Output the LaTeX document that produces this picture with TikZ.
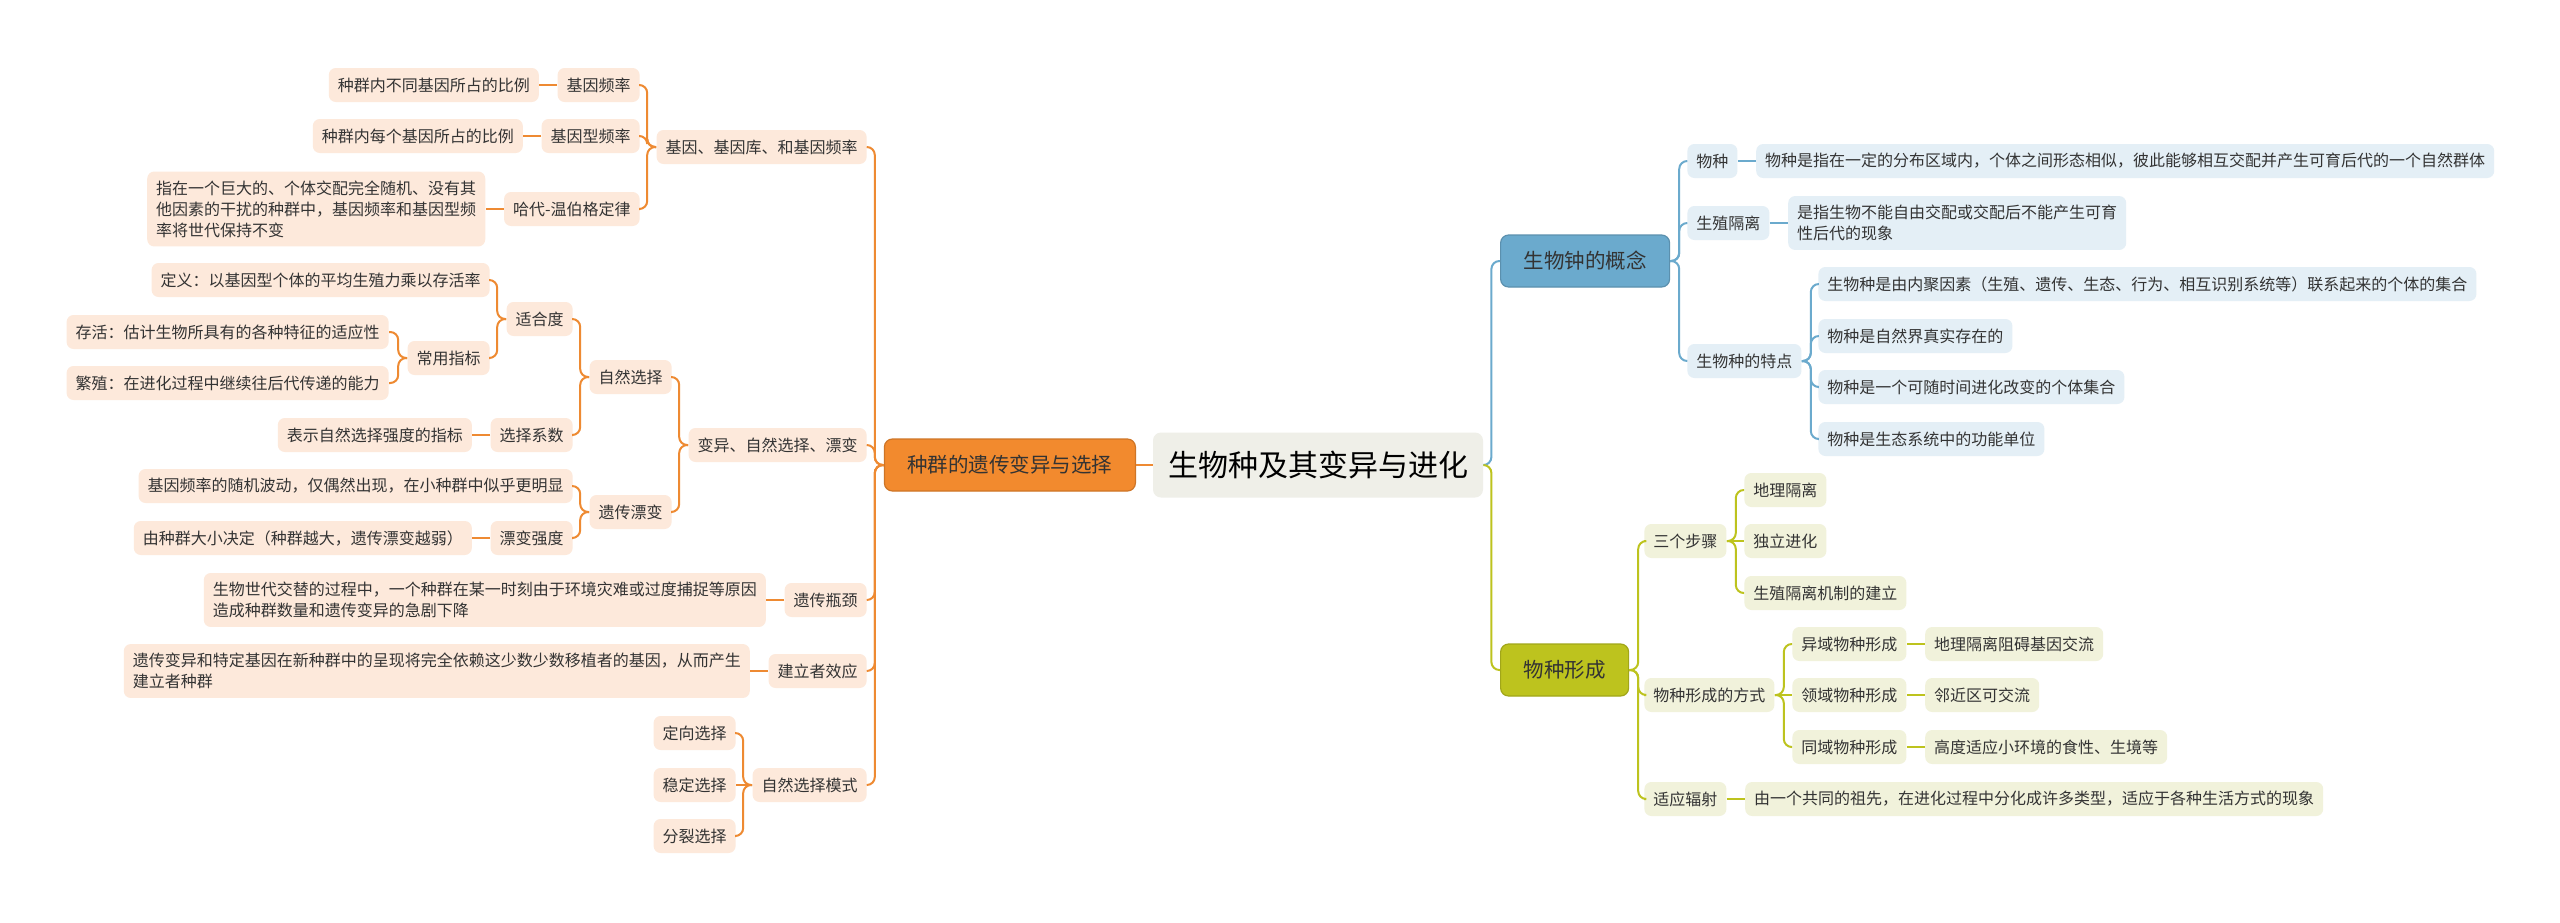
\documentclass[tikz,border=0pt]{standalone}
\usepackage{fontspec}
\setmainfont{Noto Sans CJK SC}
\usetikzlibrary{positioning, calc}
\usepackage{xcolor}
\definecolor{mapdark}{HTML}{333333}
\definecolor{maproot}{HTML}{EFEFE8}
\definecolor{maporange}{HTML}{F28A2E}
\definecolor{maporangeline}{HTML}{EE8A32}
\definecolor{maporangeleaf}{HTML}{FDE9DB}
\definecolor{mapblue}{HTML}{6BAACD}
\definecolor{mapblueleaf}{HTML}{E4EFF6}
\definecolor{mapolive}{HTML}{BDC31E}
\definecolor{mapoliveleaf}{HTML}{F1F2DB}

\begin{document}
\begin{tikzpicture}[
  x=0.5pt, y=-0.5pt,
  topic/.style={
    rounded corners=4pt, fill=maproot, text=black,
    font=\fontsize{15}{18}\selectfont, inner xsep=0pt,
    minimum width=165pt, minimum height=32.5pt
  },
  branch/.style={
    rounded corners=4pt, draw=#1!85!black, line width=0.6pt, fill=#1,
    text=mapdark, font=\fontsize{10.25}{12}\selectfont,
    inner xsep=11.5pt, minimum height=26pt
  },
  leaf/.style={
    rounded corners=3.5pt, fill=#1, text=mapdark,
    font=\fontsize{8}{10.5}\selectfont, align=left,
    inner xsep=4.5pt, inner ysep=4.5pt, minimum height=17pt
  },
  link/.style={draw=#1, line width=1pt, rounded corners=4pt}
]
  \path[fill=white] (0,0) rectangle (2560,922);

  \node[topic] (root) at (1318,465) {生物种及其变异与进化};
  \node[branch=maporange, anchor=east] (pop) at (1136,465) {种群的遗传变异与选择};
  \node[branch=mapblue, anchor=west] (concept) at (1500,261) {生物钟的概念};
  \node[branch=mapolive, anchor=west] (form) at (1500,670) {物种形成};

  \node[leaf=maporangeleaf, anchor=east] (gpool) at (867,147) {基因、基因库、和基因频率};
  \node[leaf=maporangeleaf, anchor=east] (varsel) at (867,445) {变异、自然选择、漂变};
  \node[leaf=maporangeleaf, anchor=east] (bottle) at (867,600) {遗传瓶颈};
  \node[leaf=maporangeleaf, anchor=east] (founder) at (867,671) {建立者效应};
  \node[leaf=maporangeleaf, anchor=east] (modes) at (867,785) {自然选择模式};

  \node[leaf=maporangeleaf, anchor=east] (gfreq) at (640,85) {基因频率};
  \node[leaf=maporangeleaf, anchor=east] (gtype) at (640,136) {基因型频率};
  \node[leaf=maporangeleaf, anchor=east] (hardy) at (640,209) {哈代-温伯格定律};
  \node[leaf=maporangeleaf, left=9pt of gfreq] (gfreqdesc) {种群内不同基因所占的比例};
  \node[leaf=maporangeleaf, left=9pt of gtype] (gtypedesc) {种群内每个基因所占的比例};
  \node[leaf=maporangeleaf, left=9pt of hardy] (hardydesc) {指在一个巨大的、个体交配完全随机、没有其\\他因素的干扰的种群中，基因频率和基因型频\\率将世代保持不变};

  \node[leaf=maporangeleaf, anchor=east] (natsel) at (672,377) {自然选择};
  \node[leaf=maporangeleaf, anchor=east] (drift) at (672,512) {遗传漂变};
  \node[leaf=maporangeleaf, anchor=east] (fitness) at (573,319) {适合度};
  \node[leaf=maporangeleaf, anchor=east] (selcoef) at (573,435) {选择系数};
  \node[leaf=maporangeleaf, left=9pt of selcoef] (selcoefdesc) {表示自然选择强度的指标};
  \node[leaf=maporangeleaf, anchor=east] (fitdef) at (490,280) {定义：以基因型个体的平均生殖力乘以存活率};
  \node[leaf=maporangeleaf, anchor=east] (index) at (490,358) {常用指标};
  \node[leaf=maporangeleaf, anchor=east] (survive) at (389,332) {存活：估计生物所具有的各种特征的适应性};
  \node[leaf=maporangeleaf, anchor=east] (repro) at (389,383) {繁殖：在进化过程中继续往后代传递的能力};
  \node[leaf=maporangeleaf, anchor=east] (driftdesc) at (573,486) {基因频率的随机波动，仅偶然出现，在小种群中似乎更明显};
  \node[leaf=maporangeleaf, anchor=east] (driftstr) at (573,538) {漂变强度};
  \node[leaf=maporangeleaf, left=9pt of driftstr] (driftstrdesc) {由种群大小决定（种群越大，遗传漂变越弱）};

  \node[leaf=maporangeleaf, left=9pt of bottle] (bottledesc) {生物世代交替的过程中，一个种群在某一时刻由于环境灾难或过度捕捉等原因\\造成种群数量和遗传变异的急剧下降};
  \node[leaf=maporangeleaf, left=9pt of founder] (founderdesc) {遗传变异和特定基因在新种群中的呈现将完全依赖这少数少数移植者的基因，从而产生\\建立者种群};
  \node[leaf=maporangeleaf, anchor=east] (directional) at (736,733) {定向选择};
  \node[leaf=maporangeleaf, anchor=east] (stabilizing) at (736,785) {稳定选择};
  \node[leaf=maporangeleaf, anchor=east] (disruptive) at (736,836) {分裂选择};

  \node[leaf=mapblueleaf, anchor=west] (species) at (1687,161) {物种};
  \node[leaf=mapblueleaf, right=9pt of species] (speciesdesc) {物种是指在一定的分布区域内，个体之间形态相似，彼此能够相互交配并产生可育后代的一个自然群体};
  \node[leaf=mapblueleaf, anchor=west] (isolation) at (1687,223) {生殖隔离};
  \node[leaf=mapblueleaf, right=9pt of isolation] (isolationdesc) {是指生物不能自由交配或交配后不能产生可育\\性后代的现象};
  \node[leaf=mapblueleaf, anchor=west] (traits) at (1687,361) {生物种的特点};
  \node[leaf=mapblueleaf, anchor=west] (trait1) at (1818,284) {生物种是由内聚因素（生殖、遗传、生态、行为、相互识别系统等）联系起来的个体的集合};
  \node[leaf=mapblueleaf, anchor=west] (trait2) at (1818,336) {物种是自然界真实存在的};
  \node[leaf=mapblueleaf, anchor=west] (trait3) at (1818,387) {物种是一个可随时间进化改变的个体集合};
  \node[leaf=mapblueleaf, anchor=west] (trait4) at (1818,439) {物种是生态系统中的功能单位};

  \node[leaf=mapoliveleaf, anchor=west] (steps) at (1644,541) {三个步骤};
  \node[leaf=mapoliveleaf, anchor=west] (step1) at (1744,490) {地理隔离};
  \node[leaf=mapoliveleaf, anchor=west] (step2) at (1744,541) {独立进化};
  \node[leaf=mapoliveleaf, anchor=west] (step3) at (1744,593) {生殖隔离机制的建立};
  \node[leaf=mapoliveleaf, anchor=west] (ways) at (1644,695) {物种形成的方式};
  \node[leaf=mapoliveleaf, anchor=west] (allo) at (1792,644) {异域物种形成};
  \node[leaf=mapoliveleaf, anchor=west] (para) at (1792,695) {领域物种形成};
  \node[leaf=mapoliveleaf, anchor=west] (sym) at (1792,747) {同域物种形成};
  \node[leaf=mapoliveleaf, right=9pt of allo] (allodesc) {地理隔离阻碍基因交流};
  \node[leaf=mapoliveleaf, right=9pt of para] (paradesc) {邻近区可交流};
  \node[leaf=mapoliveleaf, right=9pt of sym] (symdesc) {高度适应小环境的食性、生境等};
  \node[leaf=mapoliveleaf, anchor=west] (radiation) at (1644,799) {适应辐射};
  \node[leaf=mapoliveleaf, right=9pt of radiation] (radiationdesc) {由一个共同的祖先，在进化过程中分化成许多类型，适应于各种生活方式的现象};

  \draw[link=maporangeline] (root.west) -- (pop.east);
  \draw[link=mapblue] (root.east) -- ++(4pt,0) |- (concept.west);
  \draw[link=mapolive] (root.east) -- ++(4pt,0) |- (form.west);

  \foreach \p/\c in {pop/gpool, pop/varsel, pop/bottle, pop/founder, pop/modes,
      gpool/gfreq, gpool/gtype, gpool/hardy, varsel/natsel, varsel/drift,
      natsel/fitness, natsel/selcoef, fitness/fitdef, fitness/index,
      index/survive, index/repro, drift/driftdesc, drift/driftstr,
      modes/directional, modes/disruptive}
    \draw[link=maporangeline] (\p.west) -- ++(-4.5pt,0) |- (\c.east);
  \foreach \p/\c in {gfreq/gfreqdesc, gtype/gtypedesc, hardy/hardydesc,
      selcoef/selcoefdesc, driftstr/driftstrdesc, bottle/bottledesc,
      founder/founderdesc, modes/stabilizing}
    \draw[link=maporangeline] (\p.west) -- (\c.east);

  \foreach \p/\c in {concept/species, concept/isolation, concept/traits,
      traits/trait1, traits/trait2, traits/trait3, traits/trait4}
    \draw[link=mapblue] (\p.east) -- ++(4.5pt,0) |- (\c.west);
  \foreach \p/\c in {species/speciesdesc, isolation/isolationdesc}
    \draw[link=mapblue] (\p.east) -- (\c.west);

  \foreach \p/\c in {form/steps, form/ways, form/radiation,
      steps/step1, steps/step3, ways/allo, ways/sym}
    \draw[link=mapolive] (\p.east) -- ++(4.5pt,0) |- (\c.west);
  \foreach \p/\c in {steps/step2, ways/para, allo/allodesc, para/paradesc,
      sym/symdesc, radiation/radiationdesc}
    \draw[link=mapolive] (\p.east) -- (\c.west);
\end{tikzpicture}
\end{document}
